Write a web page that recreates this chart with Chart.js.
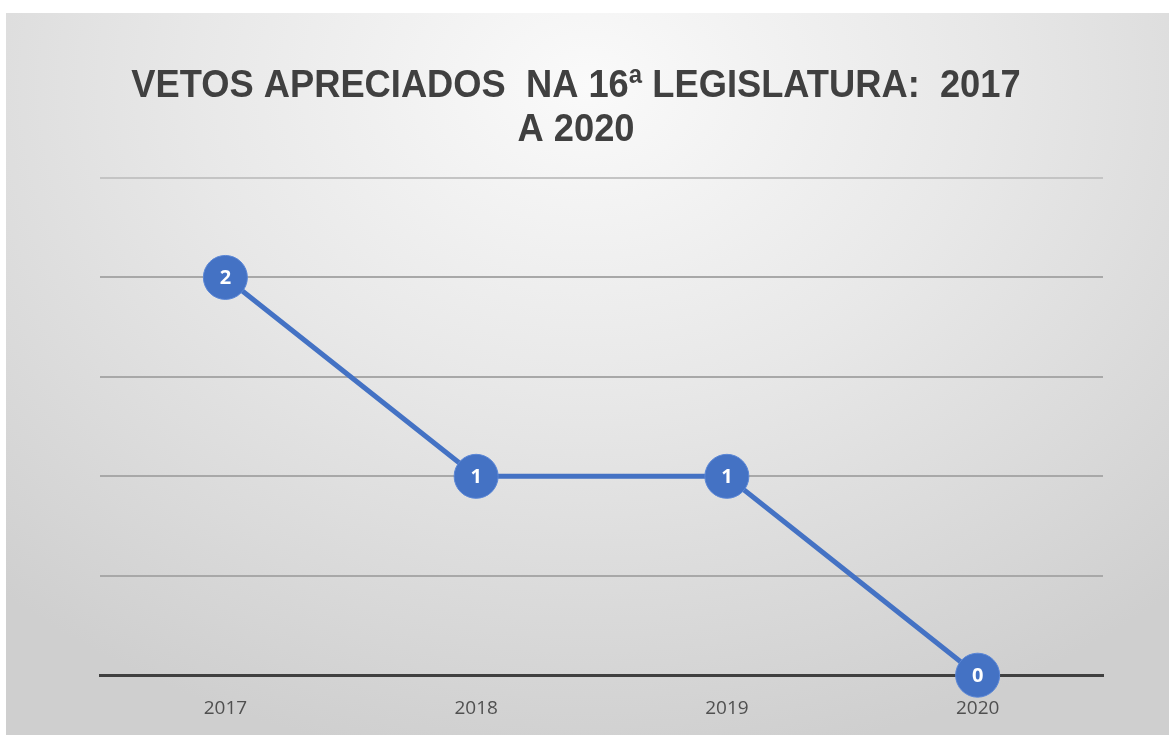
<!DOCTYPE html>
<html>
<head>
<meta charset="utf-8">
<script src="https://cdn.jsdelivr.net/npm/chart.js@4/dist/chart.umd.min.js"></script>
<style>
  html, body { margin: 0; padding: 0; background: #fff; }
  #wrap {
    position: absolute; left: 6px; top: 13px; width: 1163px; height: 722px;
    background: radial-gradient(ellipse 75% 95% at 50% 10%, #fafafa 0%, #e8e8e8 45%, #cfcfcf 100%);
  }
</style>
</head>
<body>
<div id="wrap"><canvas id="chart"></canvas></div>
<script>
// dados do gráfico
const anos = ['2017', '2018', '2019', '2020'];
const vetos = [2, 1, 1, 0];
const titulo = ['VETOS APRECIADOS  NA 16ª LEGISLATURA:  2017', 'A 2020'];

// título desenhado à mão (fonte estreita não está instalada)
const tituloPlugin = {
  id: 'tituloPlugin',
  afterDraw(chart) {
    const ctx = chart.ctx;
    ctx.save();
    ctx.fillStyle = '#404040';
    ctx.font = 'bold 38px "Liberation Sans", Arial, sans-serif';
    ctx.textAlign = 'center';
    ctx.textBaseline = 'middle';
    titulo.forEach((linha, i) => {
      ctx.save();
      ctx.translate(570, 73 + i * 44);
      ctx.scale(0.955, 1.04);
      ctx.fillText(linha, 0, 0);
      ctx.restore();
    });
    ctx.restore();
  }
};

// rótulos dentro dos marcadores
const rotulos = {
  id: 'rotulos',
  afterDatasetsDraw(chart) {
    const ctx = chart.ctx;
    const meta = chart.getDatasetMeta(0);
    ctx.save();
    ctx.fillStyle = '#ffffff';
    ctx.font = 'bold 20px "Open Sans", sans-serif';
    ctx.textAlign = 'center';
    ctx.textBaseline = 'middle';
    meta.data.forEach((pt, i) => {
      ctx.fillText(String(vetos[i]), pt.x, pt.y + 1);
    });
    ctx.restore();
  }
};

new Chart(document.getElementById('chart'), {
  type: 'line',
  data: {
    labels: anos,
    datasets: [{
      data: vetos,
      borderColor: '#4472C4',
      borderWidth: 5,
      backgroundColor: '#4472C4',
      pointBackgroundColor: '#4472C4',
      pointBorderColor: '#5a86d6',
      pointBorderWidth: 1,
      pointRadius: 22,
      pointHoverRadius: 22,
      tension: 0,
      clip: false
    }]
  },
  options: {
    responsive: true,
    maintainAspectRatio: false,
    animation: false,
    layout: { padding: { left: 94, right: 66, top: 165, bottom: 1 } },
    plugins: {
      legend: { display: false },
      tooltip: { enabled: false },
      title: { display: false }
    },
    scales: {
      x: {
        offset: true,
        grid: { display: false },
        border: { display: true, color: '#404040', width: 3 },
        ticks: { color: '#505050', font: { family: '"Open Sans", sans-serif', size: 19 }, padding: 14 }
      },
      y: {
        min: 0, max: 2.5,
        ticks: { stepSize: 0.5, display: false },
        grid: {
          color: (c) => c.tick && c.tick.value === 2.5 ? '#c4c4c4' : '#a8a8a8',
          lineWidth: 2,
          drawTicks: false
        },
        border: { display: false }
      }
    }
  },
  plugins: [rotulos, tituloPlugin]
});
</script>
</body>
</html>
